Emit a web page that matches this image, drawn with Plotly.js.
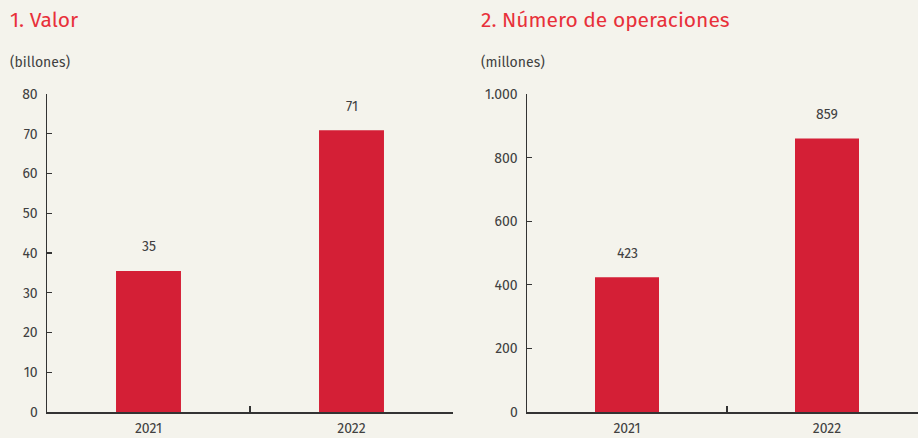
<!DOCTYPE html>
<html><head><meta charset="utf-8">
<script src="https://cdn.plot.ly/plotly-3.0.1.min.js"></script>
<style>html,body{margin:0;padding:0;background:#f4f3ec;}#c{width:918px;height:438px;}</style>
</head><body><div id="c"></div>
<script>
var categories = ['2021', '2022'];
var valor = [35.5, 70.9];
var valorLabels = ['35', '71'];
var operaciones = [424, 860];
var operacionesLabels = ['423', '859'];
var valorTicks = [0, 10, 20, 30, 40, 50, 60, 70, 80];
var opTicks = [0, 200, 400, 600, 800, 1000];
var opTickText = ['0', '200', '400', '600', '800', '1.000'];

var red = '#d41f36';
var txt = '#404040';
var font = 'Fira Sans, Noto Sans, Open Sans, sans-serif';

var traces = [
  {type: 'bar', x: categories, y: valor, xaxis: 'x', yaxis: 'y', marker: {color: red}, width: 0.32, hoverinfo: 'none'},
  {type: 'bar', x: categories, y: operaciones, xaxis: 'x2', yaxis: 'y2', marker: {color: red}, width: 0.32, hoverinfo: 'none'}
];

var ann = [];
categories.forEach(function (c, i) {
  ann.push({xref: 'x', yref: 'y', x: i, y: valor[i], text: valorLabels[i], showarrow: false, yshift: 24, font: {size: 14, color: txt}});
  ann.push({xref: 'x2', yref: 'y2', x: i, y: operaciones[i], text: operacionesLabels[i], showarrow: false, yshift: 24, font: {size: 14, color: txt}});
});
ann.push({xref: 'paper', yref: 'paper', x: 8/918, y: 1 - 20/438, xanchor: 'left', yanchor: 'middle', text: '1. Valor', showarrow: false, font: {size: 21, color: '#e8303a'}});
ann.push({xref: 'paper', yref: 'paper', x: 479/918, y: 1 - 20/438, xanchor: 'left', yanchor: 'middle', text: '2. Número de operaciones', showarrow: false, font: {size: 21, color: '#e8303a'}});
ann.push({xref: 'paper', yref: 'paper', x: 8/918, y: 1 - 62/438, xanchor: 'left', yanchor: 'middle', text: '(billones)', showarrow: false, font: {size: 14, color: txt}});
ann.push({xref: 'paper', yref: 'paper', x: 479/918, y: 1 - 62/438, xanchor: 'left', yanchor: 'middle', text: '(millones)', showarrow: false, font: {size: 14, color: txt}});

var xbase = {type: 'category', showline: true, linecolor: '#333', linewidth: 1.5, ticks: 'inside', tickson: 'boundaries', ticklen: 6, tickcolor: '#333', tickwidth: 1.2, showgrid: false, zeroline: false, tickfont: {size: 14, color: txt}, ticklabelstandoff: 3, fixedrange: true};
var ybase = {showline: true, linecolor: '#333', linewidth: 1.5, ticks: 'inside', ticklen: 5, tickcolor: '#333', tickwidth: 1.2, showgrid: false, zeroline: false, tickfont: {size: 14, color: txt}, ticklabelstandoff: 5, fixedrange: true};

var layout = {
  width: 918, height: 438,
  margin: {l: 0, r: 0, t: 0, b: 0},
  paper_bgcolor: '#f4f3ec', plot_bgcolor: '#f4f3ec',
  font: {family: font, color: txt},
  showlegend: false,
  xaxis: Object.assign({}, xbase, {domain: [47/918, 453/918], range: [-0.5, 1.5], anchor: 'y'}),
  yaxis: Object.assign({}, ybase, {domain: [26/438, 344/438], range: [0, 80], tickvals: valorTicks, anchor: 'x'}),
  xaxis2: Object.assign({}, xbase, {domain: [527/918, 1], range: [-0.5, 1.455], anchor: 'y2'}),
  yaxis2: Object.assign({}, ybase, {domain: [26/438, 344/438], range: [0, 1000], tickvals: opTicks, ticktext: opTickText, anchor: 'x2'}),
  annotations: ann
};

Plotly.newPlot('c', traces, layout, {displayModeBar: false, staticPlot: true});
</script></body></html>
